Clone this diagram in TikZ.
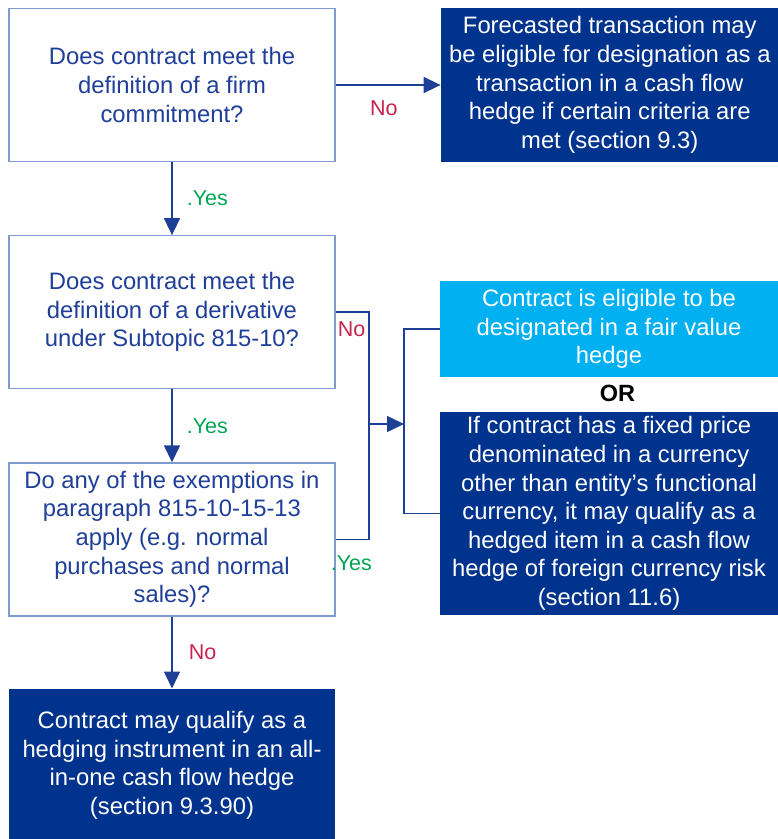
\documentclass[tikz,border=0pt]{standalone}
\usepackage{fontspec}
\setmainfont{Liberation Sans}
\usetikzlibrary{arrows.meta,positioning}
\usepackage{xcolor}
\definecolor{Navy}{HTML}{00338D}
\definecolor{Sky}{HTML}{00B0F0}
\definecolor{LineBlue}{HTML}{1E3F96}
\definecolor{TextBlue}{HTML}{1F3F99}
\definecolor{EdgeBlue}{HTML}{7F9BCF}
\definecolor{NoRed}{HTML}{C8234F}
\definecolor{YesGreen}{HTML}{00A651}

\begin{document}
\begin{tikzpicture}[x=1pt, y=-1pt,
    box/.style={minimum width=326pt, minimum height=153pt, inner sep=0pt,
                align=center, font=\fontsize{23.8}{28.6}\selectfont},
    qbox/.style={box, draw=EdgeBlue, line width=1.2pt, fill=white, text=TextBlue},
    abox/.style={box, fill=Navy, text=white, minimum width=338pt},
    link/.style={draw=LineBlue, line width=1.6pt},
    arr/.style={link, -{Triangle[length=17pt, width=16pt]}},
    lbl/.style={inner sep=0pt, font=\fontsize{21.5}{24}\selectfont},
    node distance=73pt
  ]
    \useasboundingbox (0,0) rectangle (778,839);

    % questions down the left
    \node[qbox] (firm) at (172,85) {Does contract meet the\\definition of a firm\\commitment?};
    \node[qbox, below=of firm] (deriv) {Does contract meet the\\definition of a derivative\\under Subtopic 815-10?};
    \node[qbox, below=of deriv] (exempt) {Do any of the exemptions in\\paragraph 815-10-15-13\\apply (e.g. normal\\purchases and normal\\sales)?};
    \node[abox, minimum width=326pt, below=72pt of exempt] (allin) {Contract may qualify as a\\hedging instrument in an all-\\in-one cash flow hedge\\(section 9.3.90)};

    % outcomes on the right
    \node[abox, minimum height=154pt, right=105pt of firm] (fcast) {Forecasted transaction may\\be eligible for designation as a\\transaction in a cash flow\\hedge if certain criteria are\\met (section 9.3)};
    \node[box, fill=Sky, text=white, minimum width=338pt, minimum height=96pt] (fairval) at (609,329) {Contract is eligible to be\\designated in a fair value\\hedge};
    \node[font=\fontsize{23.5}{28}\selectfont\bfseries, inner sep=0pt] (or) at (617.5,393.5) {OR};
    \node[abox, minimum height=203pt] (fxrisk) at (609,513.5) {If contract has a fixed price\\denominated in a currency\\other than entity’s functional\\currency, it may qualify as a\\hedged item in a cash flow\\hedge of foreign currency risk\\(section 11.6)};

    % connectors
    \draw[arr] (firm) -- (fcast) node[lbl, text=NoRed, pos=.46, below=15pt] {No};
    \draw[arr] (firm) -- (deriv) node[lbl, text=YesGreen, midway, right=14pt] {.Yes};
    \draw[arr] (deriv) -- (exempt) node[lbl, text=YesGreen, midway, right=14pt] {.Yes};
    \draw[arr] (exempt) -- (allin) node[lbl, text=NoRed, midway, right=16pt] {No};

    \coordinate (join) at (369,424);
    \coordinate (fork) at (404,424);
    \draw[link] (deriv.east) -| (join) |- (exempt.east);
    \draw[arr] (join) -- (fork);
    \draw[link] (fairval.west) -| (fork) |- (fxrisk.west);
    \node[lbl, text=NoRed, anchor=north west] (nolbl) at ([shift={(2,9.5)}]deriv.east) {No};
    \node[lbl, text=YesGreen, anchor=north west] (yeslbl) at ([shift={(-5,16.5)}]exempt.east) {.Yes};
\end{tikzpicture}
\end{document}
